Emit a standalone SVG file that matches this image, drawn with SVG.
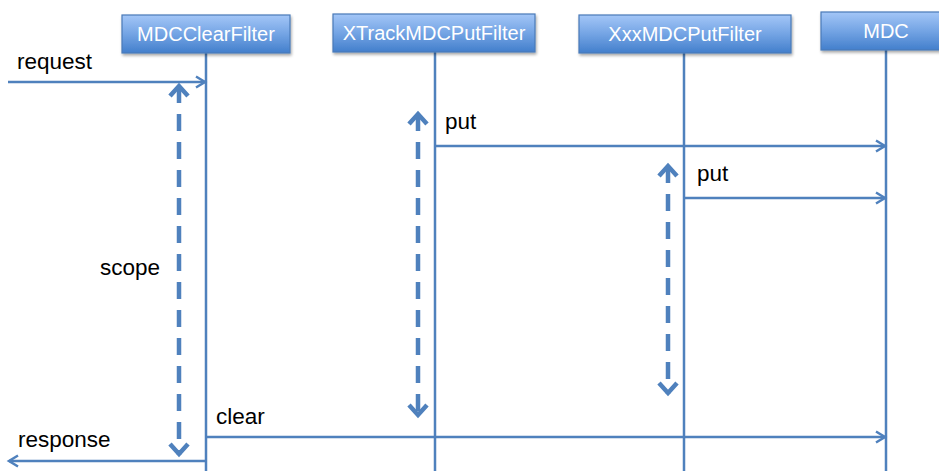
<svg xmlns="http://www.w3.org/2000/svg" width="939" height="471" viewBox="0 0 939 471">
<defs>
<linearGradient id="boxg" x1="0" y1="0" x2="0" y2="1">
<stop offset="0" stop-color="#a3c6f7"/>
<stop offset="0.5" stop-color="#74a4e4"/>
<stop offset="1" stop-color="#437fcc"/>
</linearGradient>
<filter id="sh" x="-10%" y="-20%" width="125%" height="160%">
<feGaussianBlur in="SourceAlpha" stdDeviation="1.5"/>
<feOffset dx="1" dy="2" result="b"/>
<feComponentTransfer><feFuncA type="linear" slope="0.35"/></feComponentTransfer>
<feMerge><feMergeNode/><feMergeNode in="SourceGraphic"/></feMerge>
</filter>
<marker id="arr" markerUnits="userSpaceOnUse" markerWidth="14" markerHeight="14" refX="12" refY="7" orient="auto" overflow="visible">
<path d="M3,1.5 L12,7 L3,12.5" fill="none" stroke="#4f81bd" stroke-width="2.5"/>
</marker>
</defs>
<style>
.box{fill:url(#boxg);stroke:#4a7ab8;stroke-width:1.2;filter:url(#sh)}
.bt{font-family:"Liberation Sans",Arial,sans-serif;font-size:20px;fill:#ffffff;text-anchor:middle}
.life{stroke:#4f81bd;stroke-width:2.5;fill:none}
.msg{stroke:#4f81bd;stroke-width:2.5;fill:none;marker-end:url(#arr)}
.lbl{font-family:"Liberation Sans",Arial,sans-serif;font-size:22.5px;fill:#000000}
.dash{stroke:#4f81bd;stroke-width:4.5;fill:none;stroke-dasharray:17 11}
.head{stroke:#4f81bd;stroke-width:4.5;fill:none;stroke-linejoin:miter}
</style>
<rect width="939" height="471" fill="#ffffff"/>

<g id="lifelines">
<line class="life" x1="206" y1="53" x2="206" y2="471"/>
<line class="life" x1="435" y1="52" x2="435" y2="471"/>
<line class="life" x1="684" y1="53" x2="684" y2="471"/>
<line class="life" x1="886" y1="50" x2="886" y2="471"/>
</g>

<g id="node-MDCClearFilter">
<rect class="box" x="122" y="15" width="168" height="38"/>
<text class="bt" x="206" y="41">MDCClearFilter</text>
</g>
<g id="node-XTrackMDCPutFilter">
<rect class="box" x="333" y="14" width="202" height="38"/>
<text class="bt" x="434" y="40">XTrackMDCPutFilter</text>
</g>
<g id="node-XxxMDCPutFilter">
<rect class="box" x="579" y="15" width="212" height="38"/>
<text class="bt" x="685" y="41">XxxMDCPutFilter</text>
</g>
<g id="node-MDC">
<rect class="box" x="821" y="12" width="130" height="38"/>
<text class="bt" x="886" y="38">MDC</text>
</g>

<g id="connectors">
<line class="msg" x1="8" y1="82" x2="205" y2="82"/>
<line class="msg" x1="435" y1="146" x2="885" y2="146"/>
<line class="msg" x1="684" y1="198" x2="885" y2="198"/>
<line class="msg" x1="206" y1="437" x2="885" y2="437"/>
<line class="msg" x1="206" y1="461" x2="9" y2="461"/>

<line class="dash" x1="179" y1="86" x2="179" y2="455"/>
<path class="head" d="M170,96 L179,86 L188,96"/>
<path class="head" d="M170,444 L179,454 L188,444"/>

<line class="dash" x1="418" y1="114" x2="418" y2="416"/>
<path class="head" d="M409,124 L418,114 L427,124"/>
<path class="head" d="M409,405 L418,415 L427,405"/>

<line class="dash" x1="668" y1="166" x2="668" y2="394"/>
<path class="head" d="M659,176 L668,166 L677,176"/>
<path class="head" d="M659,383 L668,393 L677,383"/>
</g>

<g id="labels">
<text class="lbl" x="17" y="69">request</text>
<text class="lbl" x="445" y="129">put</text>
<text class="lbl" x="697" y="181">put</text>
<text class="lbl" x="100" y="275">scope</text>
<text class="lbl" x="216" y="424">clear</text>
<text class="lbl" x="18" y="447">response</text>
</g>
</svg>
